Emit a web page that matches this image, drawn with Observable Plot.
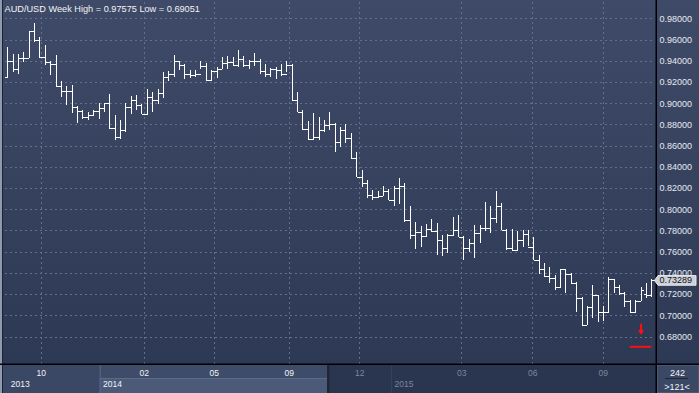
<!DOCTYPE html>
<html><head><meta charset="utf-8">
<script src="https://cdn.jsdelivr.net/npm/d3@7"></script>
<script src="https://cdn.jsdelivr.net/npm/@observablehq/plot@0.6"></script>
<style>
html,body{margin:0;padding:0;overflow:hidden;background:#2c3853;}
#wrap{position:relative;width:699px;height:393px;background:linear-gradient(#3e4a67,#2c3853);}
#wrap svg{position:absolute;left:0;top:0;}
</style></head>
<body><div id="wrap"></div>
<script>
const title = "AUD/USD Week High = 0.97575 Low = 0.69051";
const opens  = [.9246,.940,.932,.943,.943,.968,.9595,.9434,.939,.9368,.916,.9113,.9113,.8965,.8924,.887,.8893,.8924,.8959,.900,
  .8767,.8681,.875,.8962,.9034,.8978,.8900,.9056,.9031,.9094,.925,.9275,.9394,.9363,.9275,.9263,.9275,.9353,.9222,.9306,
  .9325,.938,.939,.9363,.9419,.9359,.9394,.940,.9306,.9275,.9325,.9313,.9275,.9363,.9031,.8919,.8756,.8663,.8681,.8744,
  .8791,.8806,.863,.8747,.8668,.8479,.8305,.8248,.8131,.8115,.8125,.8172,.809,.820,.8219,.790,.7761,.7783,.7752,.7815,
  .7799,.7706,.7638,.7759,.780,.7738,.7638,.7681,.7775,.7825,.7825,.7919,.8034,.7806,.7638,.7613,.7713,.7769,.7644,.7525,
  .7438,.7375,.7356,.7269,.7434,.7394,.7306,.7166,.6909,.7081,.7191,.7034,.7034,.7338,.7269,.7213,.7138,.7034,.7138,.720,.7191];
const highs  = [.9526,.946,.946,.9479,.968,.97575,.9627,.9548,.9395,.9453,.9208,.9164,.917,.8975,.8934,.8918,.894,.9006,.9006,.9091,
  .8884,.8838,.900,.9072,.9078,.8994,.9134,.9103,.9134,.929,.930,.9453,.940,.9369,.9313,.9313,.940,.9375,.9313,.9344,
  .9431,.9441,.9438,.950,.9447,.9406,.9472,.9416,.9369,.9331,.9338,.9369,.940,.9369,.9103,.8938,.8828,.8906,.8869,.8838,
  .8916,.881,.8779,.8804,.8716,.8542,.8368,.8273,.8178,.8169,.8216,.8194,.8216,.8298,.8248,.8027,.7878,.7843,.7862,.791,
  .7869,.7753,.7769,.7931,.7941,.7744,.7722,.7847,.7847,.8072,.8034,.8169,.8056,.7816,.7816,.7791,.780,.780,.7738,.7566,
  .7494,.7456,.7378,.7440,.7441,.740,.7316,.7175,.7088,.7284,.7191,.7088,.7363,.7338,.7284,.7222,.7144,.7144,.7263,.730,.7338];
const lows   = [.9246,.9296,.9277,.939,.9428,.958,.9428,.9359,.9265,.9154,.906,.8987,.8909,.8817,.8855,.8839,.8887,.8855,.8912,.876,
  .8656,.8666,.8728,.890,.8931,.8894,.8884,.8916,.899,.905,.9206,.9244,.9313,.9228,.9238,.9244,.9322,.9213,.9213,.9238,
  .932,.9322,.9353,.9338,.9344,.9322,.9353,.9275,.9244,.925,.9228,.9259,.9291,.9031,.8919,.875,.865,.8656,.8656,.8728,
  .8744,.8542,.8589,.862,.8479,.8305,.821,.8109,.809,.8106,.8122,.8084,.8027,.8052,.7878,.772,.7625,.7641,.7736,.7783,
  .7566,.7556,.7588,.7744,.7738,.7525,.7597,.7544,.7681,.7794,.7775,.7869,.7806,.7619,.7606,.7603,.7644,.765,.7519,.7388,
  .7363,.730,.7238,.726,.7213,.730,.7034,.69051,.6909,.6972,.6941,.695,.7034,.7213,.7191,.7081,.7025,.7034,.7138,.7159,.7175];
const closes = [.940,.932,.943,.943,.968,.9595,.9434,.939,.9368,.916,.9113,.9113,.8965,.8924,.887,.8893,.8924,.8959,.900,.8767,
  .8681,.875,.8962,.9034,.8978,.8900,.9056,.9031,.9094,.925,.9275,.9394,.9363,.9275,.9263,.9275,.9353,.9222,.9306,.9325,
  .938,.939,.9363,.9419,.9359,.9394,.940,.9306,.9275,.9325,.9313,.9275,.9363,.9031,.8919,.8756,.8663,.8681,.8744,.8791,
  .8806,.863,.8747,.8668,.8479,.8305,.8248,.8131,.8115,.8125,.8172,.809,.820,.8219,.790,.7761,.7783,.7752,.7815,.7799,
  .7706,.7638,.7759,.780,.7738,.7638,.7681,.7775,.7825,.7825,.7919,.8034,.7806,.7638,.7613,.7713,.7769,.7644,.7525,.7438,
  .7375,.7356,.7269,.7434,.7394,.7306,.7166,.6909,.7081,.7191,.7034,.7034,.7338,.7269,.7213,.7138,.7034,.7138,.7238,.7191,.73289];
const yTicks = [0.68,0.70,0.72,0.74,0.76,0.78,0.80,0.82,0.84,0.86,0.88,0.90,0.92,0.94,0.96,0.98];
const monthLabels = ["10","02","05","09","12","03","06","09"];
const monthPos    = [6.22,25.41,38.46,52.43,65.59,84.59,97.82,110.94];
const yearLabels  = ["2013","2014","2015"];
const yearPos     = [0,17.2,71.5];
const windowRange = [17.2,59.6];           // highlighted scroll window (bar index)
const lastPrice = 0.73289;
const barCount = "242", visibleCount = ">121<";
const signalArrow = [{bar:118, from:0.6918, to:0.6836}];
const signalLine  = [{from:116, to:120, level:0.6708}];

const n = opens.length;
const data = d3.range(n).map(i => ({i, o:opens[i], h:highs[i], l:lows[i], c:closes[i]}));
const bright = "#f2f4f7", dim = "#7c879b", gridC = "#62708d";
const inWin = v => v <= windowRange[1];
const monthMap = new Map(monthPos.map((p,k)=>[p,monthLabels[k]]));
const years = yearPos.map((p,k)=>({p, t:yearLabels[k]}));
const font = "Liberation Sans, Arial, sans-serif";

const plot = Plot.plot({
  width: 699, height: 393,
  marginLeft: 4.6, marginRight: 45, marginTop: 2, marginBottom: 29,
  style: {background: "transparent", overflow: "visible", fontFamily: font, color: bright},
  x: {type: "linear", domain: [-0.5, n - 0.5], axis: null},
  y: {domain: [0.6541, 0.99537], axis: null},
  marks: [
    Plot.ruleY(yTicks, {stroke: gridC, strokeDasharray: "2,3", shapeRendering: "crispEdges"}),
    Plot.ruleX(monthPos, {stroke: gridC, strokeDasharray: "2,3", shapeRendering: "crispEdges"}),
    Plot.ruleX(data, {x: "i", y1: "l", y2: "h", stroke: "#ffffff", shapeRendering: "crispEdges"}),
    Plot.link(data, {x1: d => d.i - 0.5, x2: "i", y1: "o", y2: "o", stroke: "#ffffff", shapeRendering: "crispEdges"}),
    Plot.link(data, {x1: "i", x2: d => d.i + 0.5, y1: "c", y2: "c", stroke: "#ffffff", shapeRendering: "crispEdges"}),
    Plot.arrow(signalArrow, {x1: "bar", x2: "bar", y1: "from", y2: "to", stroke: "#ff1010", strokeWidth: 2, headLength: 6, headAngle: 60}),
    Plot.ruleY(signalLine, {x1: "from", x2: "to", y: "level", stroke: "#ff1010", strokeWidth: 2}),
    Plot.axisY(yTicks, {anchor: "right", tickSize: 0, tickPadding: 5, tickFormat: d3.format(".5f"), fontSize: 9, color: "#e6eaf0"}),
    Plot.axisX(monthPos.filter(inWin), {anchor: "bottom", tickSize: 0, tickPadding: 5, fontSize: 8.5, color: bright, tickFormat: d => monthMap.get(d)}),
    Plot.axisX(monthPos.filter(v => !inWin(v)), {anchor: "bottom", tickSize: 0, tickPadding: 5, fontSize: 8.5, color: dim, tickFormat: d => monthMap.get(d)}),
    Plot.text(years, {x: "p", text: "t", frameAnchor: "bottom", textAnchor: "start", lineAnchor: "top", dx: 3, dy: 16, fontSize: 8.5,
      fill: d => d.p <= windowRange[0] ? "a" : "b"}),
    Plot.text([title], {frameAnchor: "top-left", textAnchor: "start", lineAnchor: "top", dx: -0.6, dy: 3, fontSize: 9.2, fill: bright})
  ],
  color: {domain: ["a","b"], range: [bright, dim]}
});

document.getElementById("wrap").appendChild(plot);

// decorative frame: bottom time strip, separators, price tag
const sx = plot.scale("x"), sy = plot.scale("y");
const X = v => sx.apply(v);
const svg = d3.select(plot);
const bg = svg.insert("g", ":first-child");
const w0 = X(windowRange[0]), w1 = X(windowRange[1]);
bg.append("rect").attr("x", 2).attr("y", 365).attr("width", w0 - 2).attr("height", 28).attr("fill", "#3a4765");
bg.append("rect").attr("x", w0).attr("y", 365).attr("width", w1 - w0).attr("height", 13).attr("fill", "#3e4b69");
bg.append("rect").attr("x", w0).attr("y", 378).attr("width", w1 - w0).attr("height", 15).attr("fill", "#4c5a7a");
bg.append("line").attr("x1", w0).attr("x2", w1).attr("y1", 378.5).attr("y2", 378.5).attr("stroke", "#5d6a88");
bg.append("line").attr("x1", w0 + 0.5).attr("x2", w0 + 0.5).attr("y1", 365).attr("y2", 393).attr("stroke", "#5d6a88");
bg.append("rect").attr("x", w1).attr("y", 365).attr("width", 656 - w1).attr("height", 28).attr("fill", "#2a3550");
bg.append("rect").attr("x", w1).attr("y", 365).attr("width", 2).attr("height", 28).attr("fill", "#1e2433");
bg.append("line").attr("x1", X(yearPos[2]) + 0.5).attr("x2", X(yearPos[2]) + 0.5).attr("y1", 365).attr("y2", 393).attr("stroke", "#36425c");
bg.append("rect").attr("x", 657).attr("y", 365).attr("width", 42).attr("height", 28).attr("fill", "#3a4765").attr("stroke", "#5d6a86");

const fg = svg.append("g").attr("text-anchor", "start");
fg.append("rect").attr("x", 0).attr("y", 0).attr("width", 2).attr("height", 393).attr("fill", "#8f9ab0");
fg.append("rect").attr("x", 2).attr("y", 0).attr("width", 1).attr("height", 393).attr("fill", "#1c2230");
fg.append("rect").attr("x", 0).attr("y", 363.5).attr("width", 699).attr("height", 1.5).attr("fill", "#000");
fg.append("rect").attr("x", 655.5).attr("y", 0).attr("width", 1.5).attr("height", 393).attr("fill", "#000");
const py = sy.apply(lastPrice);
fg.append("path").attr("d", `M654.5,${py} L658,${py-4.8} L696,${py-4.8} L696,${py+4.8} L658,${py+4.8} Z`)
  .attr("fill", "#cdd1d7").attr("stroke", "#e8ebef");
fg.append("text").attr("x", 659.5).attr("y", py).attr("dy", "0.34em").attr("text-anchor", "start").attr("font-size", 9)
  .attr("font-family", font).attr("fill", "#0d1320").text(d3.format(".5f")(lastPrice));
fg.append("text").attr("x", 677.5).attr("y", 372.5).attr("dy", "0.34em").attr("text-anchor", "middle").attr("font-size", 9)
  .attr("font-family", font).attr("fill", bright).text(barCount);
fg.append("line").attr("x1", 665).attr("x2", 688).attr("y1", 378.5).attr("y2", 378.5).attr("stroke", "#1e2433");
fg.append("text").attr("x", 677).attr("y", 386.5).attr("dy", "0.34em").attr("text-anchor", "middle").attr("font-size", 9)
  .attr("font-family", font).attr("fill", bright).text(visibleCount);
</script>
</body></html>
